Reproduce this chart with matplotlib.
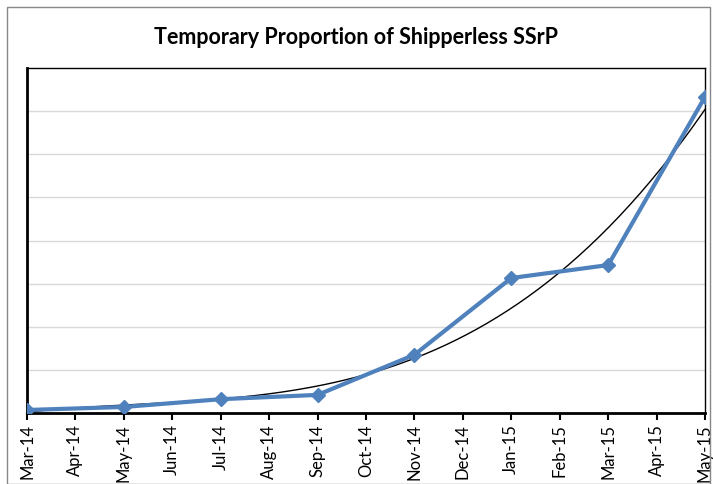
"""Temporary proportion of shipperless SSrP, bimonthly, with a poly trendline."""

import matplotlib

matplotlib.use("Agg")
import matplotlib.pyplot as plt
import numpy as np
from matplotlib.patches import Rectangle

plt.rcParams["font.family"] = ["Lato", "DejaVu Sans"]

# every month on the axis, data points every second month
months = ["Mar-14", "Apr-14", "May-14", "Jun-14", "Jul-14", "Aug-14", "Sep-14",
          "Oct-14", "Nov-14", "Dec-14", "Jan-15", "Feb-15", "Mar-15", "Apr-15",
          "May-15"]
point_months = ["Mar-14", "May-14", "Jul-14", "Sep-14", "Nov-14", "Jan-15",
                "Mar-15", "May-15"]
proportion = [0.07, 0.14, 0.32, 0.42, 1.35, 3.13, 3.43, 7.33]

x_pts = np.array([months.index(m) for m in point_months], dtype=float)
y_pts = np.array(proportion)

# Excel-style polynomial trendline fitted to the points
coef = np.polyfit(x_pts, y_pts, 3)
x_trend = np.linspace(0, len(months) - 1, 200)
y_trend = np.polyval(coef, x_trend)

fig = plt.figure(figsize=(7.13, 4.84), dpi=100)
ax = fig.add_axes([27 / 713, 1 - 413 / 484, 678 / 713, 345 / 484])

ax.plot(x_trend, y_trend, color="black", lw=1.0, zorder=3)
ax.plot(x_pts, y_pts, color="#4F81BD", lw=3, marker="D", ms=7,
        markeredgecolor="#4F81BD", zorder=4)

ax.set_xlim(0, len(months) - 1)
ax.set_ylim(0, 8)
ax.set_yticks(range(1, 8))
ax.set_yticklabels([])
ax.tick_params(axis="y", length=0)
ax.yaxis.grid(True, color="#D9D9D9", lw=1)
ax.set_axisbelow(True)

ax.set_xticks(range(len(months)))
ax.set_xticklabels(months, rotation=90, fontsize=12)
ax.tick_params(axis="x", direction="out", length=5, width=1.5, pad=3)

for side in ["top", "right"]:
    ax.spines[side].set_linewidth(1.0)
    ax.spines[side].set_color("black")
for side in ["left", "bottom"]:
    ax.spines[side].set_linewidth(2.0)
    ax.spines[side].set_color("black")

fig.text(0.5, 1 - 37 / 484, "Temporary Proportion of Shipperless SSrP",
         ha="center", va="center", fontsize=15.5, fontweight="bold")

# chart area border
fig.patches.append(Rectangle((7 / 713, 0), 1 - 10 / 713, 1 - 7 / 484,
                             transform=fig.transFigure, fill=False,
                             edgecolor="#888888", lw=1))

fig.savefig("out.png", dpi=100)
